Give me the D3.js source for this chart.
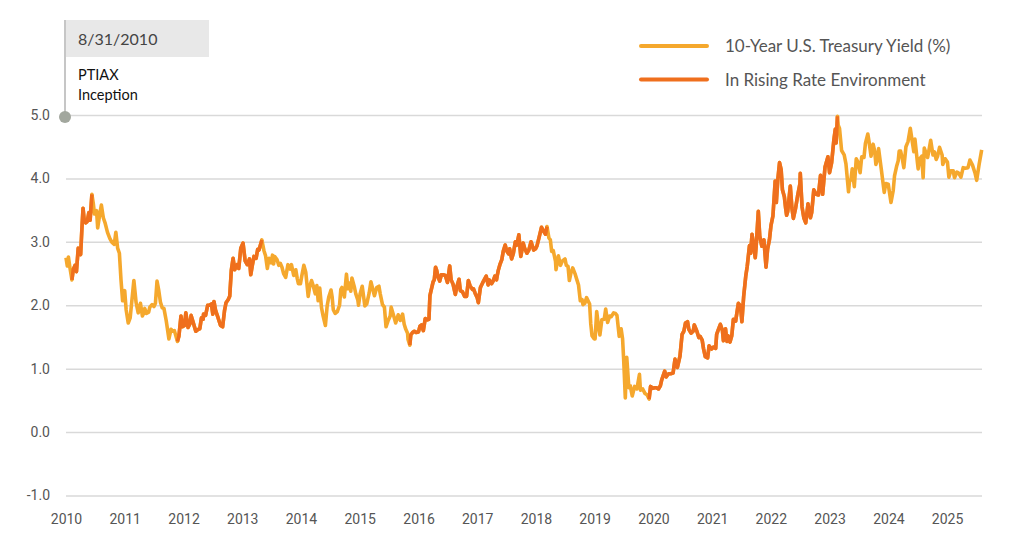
<!DOCTYPE html>
<html>
<head>
<meta charset="utf-8">
<script src="https://cdnjs.cloudflare.com/ajax/libs/d3/7.8.5/d3.min.js"></script>
<style>
  body { margin: 0; background: #fff; }
  .tick text { font-family: Roboto, sans-serif; fill: #555; }
</style>
</head>
<body>
<div id="chart"></div>
<script>
// 10-year treasury yield
var y2010 = [["2010-08-31",2.75],["2010-09-08",2.62],["2010-09-15",2.76],["2010-09-24",2.60],["2010-10-07",2.40],["2010-10-15",2.56],["2010-10-26",2.63],["2010-11-04",2.53],["2010-11-15",2.90],["2010-11-30",2.80],["2010-12-07",3.16],["2010-12-15",3.53],["2010-12-22",3.35],["2010-12-31",3.30]];
var y2011 = [["2011-01-10",3.32],["2011-01-20",3.46],["2011-01-28",3.34],["2011-02-08",3.75],["2011-02-17",3.60],["2011-02-24",3.44],["2011-03-09",3.49],["2011-03-16",3.22],["2011-03-31",3.47],["2011-04-08",3.58],["2011-04-20",3.38],["2011-05-02",3.29],["2011-05-16",3.15],["2011-05-31",3.05],["2011-06-13",2.99],["2011-06-27",2.96],["2011-07-07",3.15],["2011-07-18",2.90],["2011-07-29",2.82],["2011-08-08",2.40],["2011-08-18",2.07],["2011-08-31",2.23],["2011-09-09",1.93],["2011-09-22",1.72],["2011-10-04",1.80],["2011-10-27",2.39],["2011-11-10",2.04],["2011-11-23",1.88],["2011-12-07",2.03],["2011-12-19",1.83],["2011-12-30",1.89]];
var y2012 = [["2012-01-03",1.95],["2012-01-13",1.87],["2012-01-27",1.89],["2012-02-03",1.97],["2012-02-17",2.01],["2012-02-29",1.98],["2012-03-09",2.03],["2012-03-19",2.38],["2012-03-30",2.23],["2012-04-09",2.05],["2012-04-20",1.96],["2012-05-01",1.95],["2012-05-15",1.76],["2012-06-01",1.47],["2012-06-14",1.62],["2012-06-25",1.59],["2012-07-05",1.60],["2012-07-24",1.43],["2012-08-02",1.51],["2012-08-15",1.83],["2012-08-24",1.66],["2012-09-06",1.68],["2012-09-14",1.88],["2012-09-28",1.65],["2012-10-10",1.71],["2012-10-17",1.84],["2012-10-31",1.72],["2012-11-15",1.59],["2012-11-30",1.62],["2012-12-10",1.63],["2012-12-20",1.80],["2012-12-31",1.78]];
var y2013 = [["2013-01-02",1.86],["2013-01-15",1.84],["2013-01-28",2.00],["2013-02-06",2.00],["2013-02-20",2.02],["2013-03-01",1.86],["2013-03-08",2.06],["2013-03-19",1.91],["2013-04-03",1.80],["2013-04-18",1.68],["2013-05-01",1.66],["2013-05-13",1.92],["2013-05-22",2.04],["2013-06-05",2.09],["2013-06-14",2.14],["2013-06-24",2.55],["2013-07-05",2.74],["2013-07-15",2.56],["2013-07-30",2.64],["2013-08-09",2.58],["2013-08-22",2.90],["2013-09-05",2.98],["2013-09-18",2.70],["2013-10-01",2.64],["2013-10-15",2.73],["2013-10-23",2.48],["2013-11-01",2.62],["2013-11-12",2.77],["2013-11-25",2.74],["2013-12-05",2.88],["2013-12-13",2.87],["2013-12-31",3.03]];
var y2014 = [["2014-01-02",3.00],["2014-01-13",2.86],["2014-01-23",2.78],["2014-02-03",2.58],["2014-02-13",2.74],["2014-02-26",2.67],["2014-03-07",2.79],["2014-03-14",2.65],["2014-03-20",2.77],["2014-04-04",2.72],["2014-04-15",2.63],["2014-04-25",2.66],["2014-05-05",2.60],["2014-05-15",2.50],["2014-05-28",2.44],["2014-06-11",2.64],["2014-06-24",2.57],["2014-07-03",2.64],["2014-07-17",2.47],["2014-07-30",2.56],["2014-08-08",2.42],["2014-08-15",2.34],["2014-08-28",2.34],["2014-09-05",2.46],["2014-09-18",2.63],["2014-09-30",2.52],["2014-10-15",2.14],["2014-10-24",2.29],["2014-11-05",2.39],["2014-11-14",2.32],["2014-11-28",2.18],["2014-12-08",2.31],["2014-12-16",2.07],["2014-12-26",2.27]];
var y2015 = [["2015-01-06",1.96],["2015-01-16",1.83],["2015-01-30",1.68],["2015-02-10",1.99],["2015-02-20",2.13],["2015-03-06",2.24],["2015-03-13",2.13],["2015-03-20",1.93],["2015-04-01",1.87],["2015-04-14",1.90],["2015-04-28",2.00],["2015-05-06",2.25],["2015-05-13",2.28],["2015-05-28",2.13],["2015-06-10",2.49],["2015-06-19",2.26],["2015-06-30",2.35],["2015-07-07",2.22],["2015-07-14",2.43],["2015-07-30",2.28],["2015-08-07",2.18],["2015-08-20",2.08],["2015-08-24",2.00],["2015-09-03",2.18],["2015-09-16",2.30],["2015-09-25",2.13],["2015-10-02",1.99],["2015-10-14",2.02],["2015-10-29",2.19],["2015-11-09",2.37],["2015-11-20",2.26],["2015-12-01",2.15],["2015-12-15",2.28],["2015-12-29",2.30]];
var y2016 = [["2016-01-06",2.18],["2016-01-20",2.01],["2016-02-01",1.97],["2016-02-11",1.66],["2016-02-23",1.75],["2016-03-08",1.83],["2016-03-14",1.97],["2016-03-30",1.83],["2016-04-11",1.72],["2016-04-27",1.85],["2016-05-10",1.76],["2016-05-24",1.86],["2016-06-03",1.70],["2016-06-13",1.62],["2016-06-24",1.56],["2016-06-27",1.46],["2016-07-08",1.37],["2016-07-14",1.53],["2016-07-25",1.57],["2016-08-05",1.59],["2016-08-16",1.57],["2016-08-31",1.58],["2016-09-09",1.67],["2016-09-19",1.69],["2016-09-30",1.60],["2016-10-12",1.79],["2016-10-25",1.77],["2016-11-04",1.78],["2016-11-10",2.15],["2016-11-16",2.22],["2016-11-30",2.37],["2016-12-07",2.40],["2016-12-15",2.60],["2016-12-22",2.55],["2016-12-30",2.45]];
var y2017 = [["2017-01-10",2.38],["2017-01-20",2.48],["2017-02-01",2.48],["2017-02-14",2.47],["2017-02-27",2.36],["2017-03-13",2.62],["2017-03-22",2.40],["2017-04-03",2.33],["2017-04-17",2.17],["2017-04-27",2.30],["2017-05-10",2.41],["2017-05-18",2.23],["2017-06-01",2.21],["2017-06-14",2.14],["2017-06-26",2.14],["2017-07-07",2.39],["2017-07-17",2.31],["2017-08-01",2.25],["2017-08-08",2.26],["2017-08-18",2.19],["2017-08-31",2.12],["2017-09-07",2.04],["2017-09-20",2.28],["2017-10-05",2.36],["2017-10-26",2.46],["2017-11-07",2.32],["2017-11-14",2.40],["2017-11-28",2.34],["2017-12-08",2.38],["2017-12-19",2.46],["2017-12-29",2.40]];
var y2018 = [["2018-01-02",2.46],["2018-01-09",2.55],["2018-01-19",2.64],["2018-01-31",2.72],["2018-02-09",2.85],["2018-02-21",2.95],["2018-03-02",2.86],["2018-03-14",2.81],["2018-03-21",2.89],["2018-04-02",2.73],["2018-04-13",2.82],["2018-04-25",3.00],["2018-05-04",2.95],["2018-05-17",3.11],["2018-05-29",2.77],["2018-06-13",2.98],["2018-06-22",2.90],["2018-07-06",2.82],["2018-07-18",2.87],["2018-08-01",3.00],["2018-08-17",2.87],["2018-08-29",2.89],["2018-09-07",2.94],["2018-09-18",3.05],["2018-10-05",3.23],["2018-10-17",3.17],["2018-10-30",3.12],["2018-11-08",3.24],["2018-11-20",3.06],["2018-11-29",3.03],["2018-12-07",2.85],["2018-12-17",2.86],["2018-12-31",2.69]];
var y2019 = [["2019-01-03",2.56],["2019-01-18",2.78],["2019-01-31",2.63],["2019-02-12",2.70],["2019-02-28",2.73],["2019-03-08",2.63],["2019-03-19",2.61],["2019-03-27",2.39],["2019-04-05",2.50],["2019-04-17",2.59],["2019-05-01",2.50],["2019-05-13",2.40],["2019-05-23",2.32],["2019-06-03",2.07],["2019-06-14",2.09],["2019-06-20",2.01],["2019-07-01",2.03],["2019-07-12",2.12],["2019-07-31",2.02],["2019-08-07",1.71],["2019-08-15",1.52],["2019-08-28",1.47],["2019-09-03",1.47],["2019-09-13",1.90],["2019-09-25",1.65],["2019-10-03",1.53],["2019-10-15",1.77],["2019-10-30",1.78],["2019-11-08",1.94],["2019-11-20",1.73],["2019-12-03",1.83],["2019-12-13",1.82],["2019-12-27",1.88]];
var y2020 = [["2020-01-08",1.87],["2020-01-17",1.84],["2020-01-31",1.51],["2020-02-12",1.63],["2020-02-21",1.47],["2020-02-28",1.13],["2020-03-09",0.54],["2020-03-18",1.18],["2020-03-31",0.70],["2020-04-09",0.73],["2020-04-21",0.57],["2020-05-06",0.72],["2020-05-20",0.68],["2020-06-05",0.91],["2020-06-11",0.66],["2020-06-25",0.68],["2020-07-09",0.61],["2020-07-22",0.59],["2020-08-04",0.52],["2020-08-13",0.72],["2020-08-26",0.69],["2020-09-09",0.70],["2020-09-18",0.70],["2020-10-01",0.68],["2020-10-13",0.73],["2020-10-21",0.82],["2020-11-09",0.96],["2020-11-18",0.87],["2020-12-03",0.92],["2020-12-16",0.92],["2020-12-31",0.93]];
var y2021 = [["2021-01-12",1.15],["2021-01-27",1.02],["2021-02-12",1.20],["2021-02-25",1.54],["2021-03-08",1.59],["2021-03-18",1.72],["2021-03-31",1.74],["2021-04-08",1.62],["2021-04-22",1.56],["2021-05-05",1.59],["2021-05-12",1.69],["2021-05-28",1.59],["2021-06-09",1.49],["2021-06-17",1.51],["2021-06-30",1.45],["2021-07-08",1.32],["2021-07-19",1.19],["2021-08-03",1.17],["2021-08-12",1.36],["2021-08-27",1.31],["2021-09-08",1.34],["2021-09-22",1.32],["2021-09-28",1.54],["2021-10-08",1.61],["2021-10-21",1.70],["2021-11-03",1.60],["2021-11-09",1.44],["2021-11-22",1.63],["2021-12-01",1.43],["2021-12-08",1.52],["2021-12-20",1.42],["2021-12-31",1.52]];
var y2022 = [["2022-01-10",1.78],["2022-01-24",1.75],["2022-02-10",2.03],["2022-02-23",1.99],["2022-03-04",1.74],["2022-03-15",2.14],["2022-03-28",2.46],["2022-04-06",2.61],["2022-04-20",2.94],["2022-04-27",2.82],["2022-05-06",3.12],["2022-05-26",2.75],["2022-06-01",2.94],["2022-06-14",3.48],["2022-06-23",3.09],["2022-07-06",2.93],["2022-07-19",3.03],["2022-08-01",2.60],["2022-08-11",2.89],["2022-08-22",3.03],["2022-09-01",3.26],["2022-09-13",3.41],["2022-09-27",3.96],["2022-10-04",3.62],["2022-10-14",4.00],["2022-10-24",4.25],["2022-11-03",4.14],["2022-11-11",3.82],["2022-11-23",3.71],["2022-12-01",3.53],["2022-12-07",3.42],["2022-12-14",3.48],["2022-12-30",3.88]];
var y2023 = [["2023-01-09",3.53],["2023-01-18",3.37],["2023-01-31",3.52],["2023-02-13",3.72],["2023-02-28",3.92],["2023-03-02",4.08],["2023-03-13",3.55],["2023-03-24",3.38],["2023-04-05",3.30],["2023-04-19",3.60],["2023-05-04",3.38],["2023-05-12",3.46],["2023-05-25",3.82],["2023-06-09",3.75],["2023-06-23",3.74],["2023-07-06",4.05],["2023-07-19",3.75],["2023-08-03",4.18],["2023-08-21",4.34],["2023-08-31",4.09],["2023-09-13",4.25],["2023-09-27",4.61],["2023-10-06",4.78],["2023-10-11",4.56],["2023-10-19",4.98],["2023-10-24",4.84],["2023-11-01",4.79],["2023-11-14",4.44],["2023-11-30",4.37],["2023-12-11",4.23],["2023-12-27",3.79]];
var y2024 = [["2024-01-02",3.95],["2024-01-11",3.98],["2024-01-19",4.15],["2024-02-01",3.87],["2024-02-13",4.31],["2024-02-23",4.26],["2024-03-08",4.09],["2024-03-18",4.34],["2024-04-01",4.33],["2024-04-10",4.55],["2024-04-25",4.70],["2024-05-02",4.59],["2024-05-15",4.35],["2024-05-28",4.54],["2024-06-07",4.43],["2024-06-14",4.22],["2024-06-26",4.32],["2024-07-01",4.47],["2024-07-17",4.16],["2024-08-05",3.78],["2024-08-15",3.92],["2024-08-30",3.91],["2024-09-16",3.62],["2024-09-30",3.81],["2024-10-08",4.04],["2024-10-22",4.20],["2024-10-31",4.28],["2024-11-06",4.43],["2024-11-15",4.43],["2024-11-26",4.30],["2024-12-05",4.17],["2024-12-18",4.50],["2024-12-31",4.58]];
var y2025 = [["2025-01-14",4.79],["2025-01-24",4.62],["2025-02-05",4.42],["2025-02-12",4.62],["2025-02-28",4.24],["2025-03-04",4.15],["2025-03-14",4.31],["2025-03-26",4.35],["2025-04-04",4.01],["2025-04-11",4.48],["2025-04-23",4.39],["2025-05-02",4.33],["2025-05-21",4.60],["2025-06-04",4.37],["2025-06-13",4.42],["2025-06-24",4.30],["2025-07-03",4.35],["2025-07-15",4.49],["2025-07-31",4.37],["2025-08-04",4.22],["2025-08-19",4.31],["2025-09-02",4.26],["2025-09-11",4.02],["2025-09-23",4.12],["2025-10-08",4.12],["2025-10-16",4.01],["2025-10-31",4.10],["2025-11-12",4.08],["2025-11-25",4.02],["2025-12-09",4.17],["2025-12-22",4.16]];
var y2026 = [["2026-01-08",4.17],["2026-01-20",4.29],["2026-02-05",4.21],["2026-02-20",4.09],["2026-03-03",3.97],["2026-03-18",4.22],["2026-04-03",4.45]];

// periods shown in the darker orange
var risingPeriods = [["2010-10-07","2011-02-08"],["2012-07-24","2013-12-31"],["2016-07-08","2018-11-08"],["2020-08-04","2023-10-19"]];

var yearLabels = d3.range(2010, 2026);
var yTicks = [-1, 0, 1, 2, 3, 4, 5];
var legendItems = ["10-Year U.S. Treasury Yield (%)", "In Rising Rate Environment"];
var inceptionDate = "8/31/2010";

var width = 1024,
    height = 554;

var lightColor = "#f5a82d",
    darkColor = "#ef6f1d";

var parse = d3.timeParse("%Y-%m-%d");

var data = [].concat(y2010, y2011, y2012, y2013, y2014, y2015, y2016, y2017,
    y2018, y2019, y2020, y2021, y2022, y2023, y2024, y2025, y2026)
    .map(function(d) { return {date: parse(d[0]), value: d[1]}; });

var x = d3.scaleTime()
    .domain([parse("2010-08-31"), parse("2026-04-05")])
    .range([66, 982]);

var y = d3.scaleLinear()
    .domain([-1, 5])
    .range([495.5, 115]);

var svg = d3.select("#chart").append("svg")
    .attr("width", width)
    .attr("height", height);

// gridlines + y labels
var yAxis = svg.append("g")
    .attr("transform", "translate(66,0)")
    .call(d3.axisLeft(y).tickValues(yTicks).tickSize(-916).tickPadding(16)
        .tickFormat(function(d) { return d.toFixed(1); }));
yAxis.select(".domain").remove();
yAxis.selectAll(".tick line").attr("stroke", "#d9d9d9").attr("stroke-width", 1.5);
yAxis.selectAll(".tick text").style("font-size", "14px");

// x labels
var xAxis = svg.append("g")
    .attr("transform", "translate(0,506)")
    .call(d3.axisBottom(x)
        .tickValues(yearLabels.map(function(yr) { return parse(yr + "-08-31"); }))
        .tickSize(0).tickPadding(8)
        .tickFormat(d3.timeFormat("%Y")));
xAxis.select(".domain").remove();
xAxis.selectAll(".tick text").style("font-size", "14px");

var line = d3.line()
    .x(function(d) { return x(d.date); })
    .y(function(d) { return y(d.value); });

svg.append("path")
    .datum(data)
    .attr("fill", "none")
    .attr("stroke", lightColor)
    .attr("stroke-width", 3.6)
    .attr("stroke-linejoin", "round")
    .attr("d", line);

risingPeriods.forEach(function(p) {
    var s = parse(p[0]), e = parse(p[1]);
    svg.append("path")
        .datum(data.filter(function(d) { return d.date >= s && d.date <= e; }))
        .attr("fill", "none")
        .attr("stroke", darkColor)
        .attr("stroke-width", 3.6)
        .attr("stroke-linejoin", "round")
        .attr("d", line);
});

// inception annotation
var ann = svg.append("g");
ann.append("line")
    .attr("x1", 65).attr("x2", 65)
    .attr("y1", 20).attr("y2", y(5))
    .attr("stroke", "#c6c6c6")
    .attr("stroke-width", 2);
ann.append("rect")
    .attr("x", 66).attr("y", 20)
    .attr("width", 143).attr("height", 37)
    .attr("fill", "#e8e8e8");
ann.append("text")
    .attr("x", 78).attr("y", 45)
    .style("font-family", "Lato, sans-serif")
    .style("font-size", "16px")
    .style("fill", "#444")
    .text(inceptionDate);
ann.append("text")
    .attr("x", 78).attr("y", 80)
    .style("font-family", "Lato, sans-serif")
    .style("font-size", "14.5px")
    .style("fill", "#111")
    .text("PTIAX");
ann.append("text")
    .attr("x", 78).attr("y", 100)
    .style("font-family", "Lato, sans-serif")
    .style("font-size", "14.5px")
    .style("fill", "#111")
    .text("Inception");
ann.append("circle")
    .attr("cx", 65).attr("cy", y(5) + 2)
    .attr("r", 6)
    .attr("fill", "#a2a79e");

// legend
var legend = svg.append("g")
    .selectAll("g")
    .data(legendItems)
    .enter().append("g")
    .attr("transform", function(d, i) { return "translate(641," + (46 + i * 33.5) + ")"; });

legend.append("line")
    .attr("x1", 0).attr("x2", 66)
    .attr("stroke", function(d, i) { return i === 0 ? lightColor : darkColor; })
    .attr("stroke-width", 4)
    .attr("stroke-linecap", "round");

legend.append("text")
    .attr("x", 84).attr("y", 6)
    .style("font-family", "Lato, sans-serif")
    .style("font-size", "17px")
    .style("fill", "#555")
    .text(function(d) { return d; });
</script>
</body>
</html>
